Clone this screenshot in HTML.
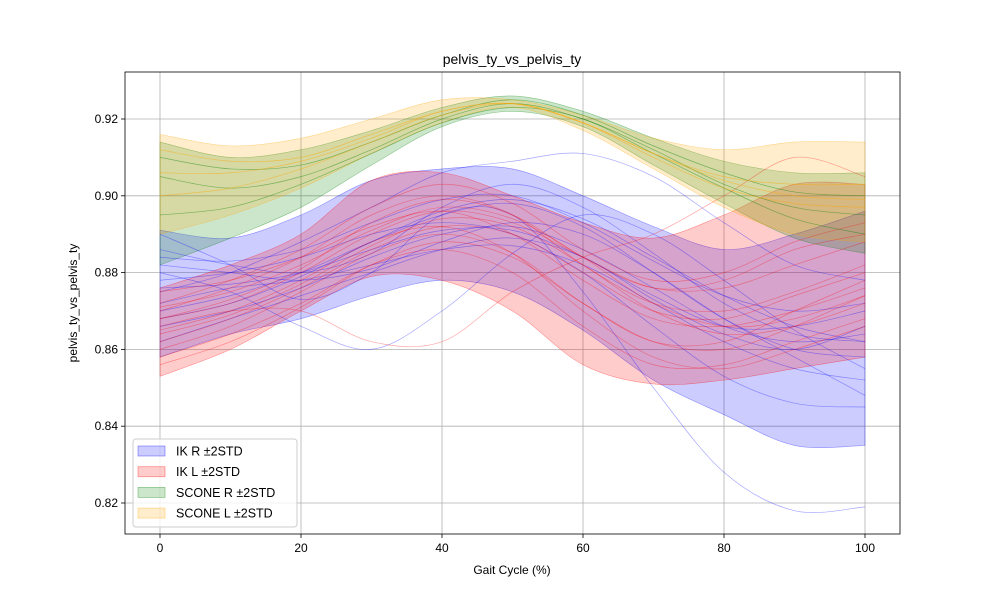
<!DOCTYPE html>
<html><head><meta charset="utf-8"><style>
body{margin:0;background:#fff;}
svg{display:block;font-family:"Liberation Sans","DejaVu Sans",sans-serif;}
</style></head><body>
<svg id="chart" width="1000" height="600" xmlns="http://www.w3.org/2000/svg">
<rect width="1000" height="600" fill="#fff"/>
<text x="512" y="64" text-anchor="middle" font-size="14">pelvis_ty_vs_pelvis_ty</text>
<text x="512" y="574" text-anchor="middle" font-size="12">Gait Cycle (%)</text>
<text transform="translate(77,303) rotate(-90)" text-anchor="middle" font-size="12">pelvis_ty_vs_pelvis_ty</text>
<g id="grid"></g>
<g id="bands"></g>
<g id="traces"></g>
<g id="axes"></g>
<g id="legend"></g>
</svg>
<script>
const xs = [0,10,20,30,40,50,60,70,80,90,100];
const xTicks = [0,20,40,60,80,100];
const yTicks = [0.82,0.84,0.86,0.88,0.90,0.92];
const ikRUpper = [0.891,0.889,0.895,0.904,0.907,0.907,0.900,0.892,0.886,0.890,0.896];
const ikRLower = [0.858,0.864,0.868,0.874,0.878,0.875,0.865,0.852,0.843,0.835,0.835];
const ikLUpper = [0.876,0.882,0.890,0.904,0.906,0.900,0.893,0.889,0.895,0.903,0.903];
const ikLLower = [0.853,0.860,0.870,0.879,0.878,0.870,0.856,0.851,0.852,0.855,0.858];
const scRUpper = [0.914,0.910,0.912,0.917,0.923,0.926,0.922,0.915,0.909,0.906,0.906];
const scRLower = [0.882,0.889,0.897,0.908,0.918,0.922,0.918,0.908,0.898,0.889,0.885];
const scLUpper = [0.916,0.913,0.915,0.920,0.925,0.925,0.921,0.915,0.912,0.914,0.914];
const scLLower = [0.890,0.895,0.902,0.911,0.919,0.923,0.917,0.907,0.897,0.890,0.888];
const ikRTraces = [
 [0.890,0.882,0.873,0.880,0.895,0.895,0.875,0.850,0.828,0.818,0.819],
 [0.880,0.875,0.866,0.860,0.870,0.885,0.895,0.890,0.878,0.865,0.855],
 [0.875,0.880,0.888,0.897,0.906,0.909,0.911,0.905,0.893,0.882,0.878],
 [0.870,0.874,0.880,0.888,0.895,0.898,0.892,0.880,0.868,0.860,0.858],
 [0.878,0.880,0.884,0.890,0.893,0.890,0.880,0.866,0.853,0.846,0.845],
 [0.866,0.870,0.876,0.884,0.890,0.892,0.886,0.876,0.866,0.862,0.864],
 [0.884,0.883,0.886,0.893,0.899,0.900,0.893,0.883,0.874,0.870,0.872],
 [0.872,0.876,0.878,0.882,0.886,0.887,0.882,0.872,0.862,0.855,0.852],
 [0.886,0.882,0.880,0.885,0.897,0.903,0.897,0.885,0.872,0.864,0.862],
 [0.862,0.868,0.874,0.880,0.886,0.889,0.884,0.873,0.864,0.860,0.866],
 [0.876,0.877,0.880,0.886,0.891,0.891,0.884,0.874,0.866,0.866,0.870],
 [0.868,0.872,0.879,0.888,0.896,0.899,0.894,0.884,0.874,0.866,0.862],
 [0.882,0.880,0.878,0.881,0.888,0.893,0.890,0.880,0.868,0.858,0.848]
];
const ikLTraces = [
 [0.866,0.870,0.870,0.862,0.862,0.875,0.884,0.890,0.900,0.910,0.905],
 [0.860,0.866,0.875,0.885,0.890,0.885,0.872,0.862,0.862,0.870,0.878],
 [0.870,0.876,0.884,0.895,0.900,0.895,0.882,0.872,0.870,0.875,0.882],
 [0.865,0.870,0.878,0.888,0.892,0.885,0.870,0.858,0.855,0.860,0.866],
 [0.872,0.878,0.886,0.897,0.903,0.898,0.886,0.878,0.880,0.888,0.893],
 [0.858,0.864,0.872,0.882,0.886,0.880,0.866,0.856,0.856,0.862,0.868],
 [0.868,0.872,0.880,0.890,0.896,0.893,0.884,0.876,0.876,0.882,0.888],
 [0.875,0.878,0.884,0.892,0.896,0.890,0.878,0.868,0.866,0.870,0.876],
 [0.862,0.868,0.876,0.886,0.892,0.890,0.880,0.870,0.868,0.874,0.880],
 [0.864,0.869,0.877,0.887,0.894,0.892,0.882,0.870,0.864,0.866,0.872],
 [0.871,0.875,0.882,0.891,0.897,0.894,0.884,0.872,0.866,0.868,0.874],
 [0.856,0.862,0.871,0.882,0.888,0.884,0.872,0.862,0.860,0.866,0.874],
 [0.868,0.873,0.881,0.893,0.899,0.895,0.884,0.876,0.878,0.886,0.890]
];
const scRTraces = [
 [0.905,0.902,0.905,0.912,0.920,0.924,0.920,0.912,0.903,0.897,0.895],
 [0.895,0.897,0.903,0.911,0.919,0.923,0.920,0.911,0.902,0.894,0.890],
 [0.910,0.907,0.908,0.914,0.921,0.925,0.921,0.913,0.906,0.901,0.900]
];
const scLTraces = [
 [0.912,0.909,0.910,0.916,0.922,0.924,0.919,0.911,0.905,0.903,0.903],
 [0.900,0.902,0.907,0.914,0.921,0.924,0.919,0.910,0.902,0.898,0.897],
 [0.906,0.906,0.909,0.915,0.922,0.924,0.919,0.911,0.904,0.900,0.899]
];
const legendLabels = ["IK R \u00b12STD","IK L \u00b12STD","SCONE R \u00b12STD","SCONE L \u00b12STD"];

const NS="http://www.w3.org/2000/svg";
const L=125,R=900,T=72,B=534;
const xScale=v=>160+(v-0)*(865-160)/100;
const yScale=v=>503-(v-0.82)*(503-119)/0.10;
function mk(tag,attrs,parent){const e=document.createElementNS(NS,tag);for(const k in attrs)e.setAttribute(k,attrs[k]);parent.appendChild(e);return e;}
function smooth(pts){let d="M"+pts[0][0]+","+pts[0][1];for(let i=0;i<pts.length-1;i++){const p0=pts[Math.max(i-1,0)],p1=pts[i],p2=pts[i+1],p3=pts[Math.min(i+2,pts.length-1)];const c1=[p1[0]+(p2[0]-p0[0])/6,p1[1]+(p2[1]-p0[1])/6],c2=[p2[0]-(p3[0]-p1[0])/6,p2[1]-(p3[1]-p1[1])/6];d+="C"+c1+" "+c2+" "+p2;}return d;}
const grid=document.getElementById('grid'),axes=document.getElementById('axes'),bands=document.getElementById('bands'),traces=document.getElementById('traces'),legend=document.getElementById('legend');
xTicks.forEach(t=>{const x=xScale(t);
 const g=mk('line',{x1:x,x2:x,y1:T,y2:B,stroke:'#b0b0b0','stroke-width':0.8},grid);
 
 
 mk('line',{x1:x,x2:x,y1:B,y2:B+4,stroke:'#000','stroke-width':0.8},axes);
 const tx=mk('text',{x:x,y:B+18,'text-anchor':'middle','font-size':12},axes);tx.textContent=t;
 
 });
yTicks.forEach(t=>{const y=yScale(t);
 const g=mk('line',{x1:L,x2:R,y1:y,y2:y,stroke:'#b0b0b0','stroke-width':0.8},grid);
 
 
 mk('line',{x1:L-4,x2:L,y1:y,y2:y,stroke:'#000','stroke-width':0.8},axes);
 const tx=mk('text',{x:L-7,y:y+4,'text-anchor':'end','font-size':12},axes);tx.textContent=t.toFixed(2);
 
 });
const fr=mk('rect',{x:L,y:T,width:R-L,height:B-T,fill:'none',stroke:'#000','stroke-width':0.8},axes);


const series=[
 {up:ikRUpper,lo:ikRLower,tr:ikRTraces,fill:'rgba(0,0,255,0.2)',line:'rgba(0,0,255,0.35)',edge:'rgba(0,0,255,0.4)',name:'ik-r'},
 {up:ikLUpper,lo:ikLLower,tr:ikLTraces,fill:'rgba(255,0,0,0.2)',line:'rgba(255,0,0,0.35)',edge:'rgba(255,0,0,0.4)',name:'ik-l'},
 {up:scRUpper,lo:scRLower,tr:scRTraces,fill:'rgba(0,128,0,0.2)',line:'rgba(0,128,0,0.45)',edge:'rgba(0,128,0,0.4)',name:'scone-r'},
 {up:scLUpper,lo:scLLower,tr:scLTraces,fill:'rgba(255,165,0,0.2)',line:'rgba(255,165,0,0.5)',edge:'rgba(255,165,0,0.4)',name:'scone-l'}
];
series.forEach(s=>{
 const up=xs.map((x,i)=>[xScale(x),yScale(s.up[i])]);
 const lo=xs.map((x,i)=>[xScale(x),yScale(s.lo[i])]).reverse();
 const d=smooth(up)+smooth(lo).replace('M','L')+'Z';
 const b=mk('path',{d:d,fill:s.fill,stroke:s.edge,'stroke-width':0.6},bands);
 
 
 s.tr.forEach(tr=>{const p=mk('path',{d:smooth(xs.map((x,i)=>[xScale(x),yScale(tr[i])])),fill:'none',stroke:s.line,'stroke-width':0.7},traces);
  
  });
});
const lb=mk('rect',{x:133,y:439,width:164,height:88,rx:3,fill:'rgba(255,255,255,0.8)',stroke:'#ccc','stroke-width':1},legend);


legendLabels.forEach((lab,i)=>{const y=451+i*20.7;
 const r=mk('rect',{x:138,y:y-5,width:27,height:10,fill:series[i].fill,stroke:series[i].edge,'stroke-width':0.8},legend);
 
 
 const t=mk('text',{x:176,y:y+4.5,'font-size':12.5},legend);t.textContent=lab;
 
 });
</script>
</body></html>
